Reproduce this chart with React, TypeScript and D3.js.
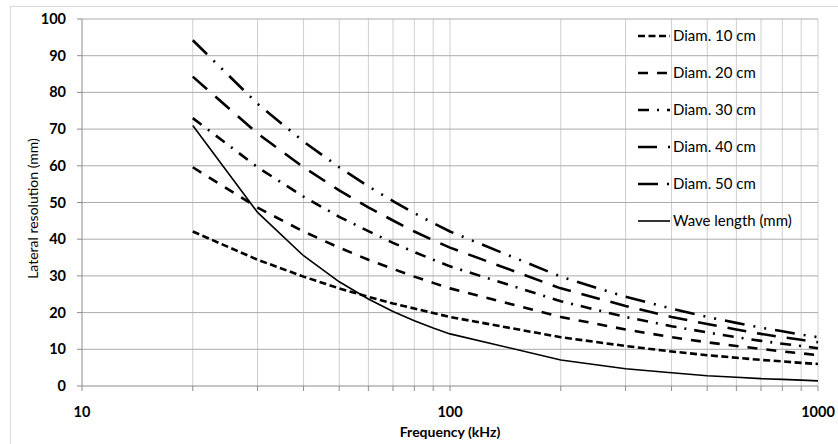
import * as d3 from "d3";

const freqs = [20, 30, 40, 50, 60, 70, 80, 90, 100, 200, 300, 400, 500, 600, 700, 800, 900, 1000];
const waveLength = [71, 47.3, 35.5, 28.4, 23.7, 20.3, 17.8, 15.8, 14.2, 7.1, 4.7, 3.6, 2.8, 2.4, 2.0, 1.8, 1.6, 1.4];
const diam10 = [42.1, 34.4, 29.8, 26.6, 24.3, 22.5, 21.1, 19.9, 18.8, 13.3, 10.9, 9.4, 8.4, 7.7, 7.1, 6.7, 6.3, 6.0];
const diam20 = [59.6, 48.6, 42.1, 37.7, 34.4, 31.9, 29.8, 28.1, 26.6, 18.8, 15.4, 13.3, 11.9, 10.9, 10.1, 9.4, 8.9, 8.4];
const diam30 = [73.0, 59.6, 51.6, 46.1, 42.2, 39.0, 36.5, 34.4, 32.6, 23.1, 18.8, 16.3, 14.6, 13.3, 12.3, 11.5, 10.9, 10.3];
const diam40 = [84.3, 68.8, 59.6, 53.3, 48.7, 45.1, 42.1, 39.7, 37.7, 26.6, 21.8, 18.8, 16.9, 15.4, 14.2, 13.3, 12.6, 11.9];
const diam50 = [94.2, 76.9, 66.6, 59.6, 54.4, 50.4, 47.1, 44.4, 42.1, 29.8, 24.3, 21.1, 18.8, 17.2, 15.9, 14.9, 14.0, 13.3];

const yTicks = [0, 10, 20, 30, 40, 50, 60, 70, 80, 90, 100];
const xLabels = [10, 100, 1000];
const gridFreqs = [20, 30, 40, 50, 60, 70, 80, 90, 100, 200, 300, 400, 500, 600, 700, 800, 900, 1000];

const series = [
  { name: "Diam. 10 cm", values: diam10, dash: "7,3.5", width: 2.6 },
  { name: "Diam. 20 cm", values: diam20, dash: "10,9", width: 2.6 },
  { name: "Diam. 30 cm", values: diam30, dash: "11,8,2,8", width: 2.6 },
  { name: "Diam. 40 cm", values: diam40, dash: "19,11", width: 2.6 },
  { name: "Diam. 50 cm", values: diam50, dash: "20,9,2,9,2,9", width: 2.6 },
  { name: "Wave length (mm)", values: waveLength, dash: null, width: 1.6 },
];

const width = 838;
const height = 444;
const margin = { top: 19, right: 20, bottom: 58, left: 82 };

export default function App() {
  const x = d3.scaleLog().domain([10, 1000]).range([margin.left, width - margin.right]);
  const y = d3.scaleLinear().domain([0, 100]).range([height - margin.bottom, margin.top]);

  const line = d3
    .line<number>()
    .x((_, i) => x(freqs[i]))
    .y((d) => y(d));

  const font = "Lato, 'Open Sans', sans-serif";

  return (
    <svg
      width={width}
      height={height}
      style={{ position: "absolute", left: 0, top: 0, background: "#fff" }}
      fontFamily={font}
    >
      <rect x={10.5} y={6.5} width={width} height={height} fill="#fff" stroke="#d9d9d9" />

      {/* vertical grid */}
      {gridFreqs.map((f) => (
        <line key={"v" + f} x1={x(f)} x2={x(f)} y1={y(100)} y2={y(0)} stroke="#cfcfcf" />
      ))}
      {/* horizontal grid */}
      {yTicks.slice(1).map((t) => (
        <line key={"h" + t} x1={x(10)} x2={x(1000)} y1={y(t)} y2={y(t)} stroke="#ababab" />
      ))}

      {/* axes */}
      <line x1={x(10)} x2={x(10)} y1={y(100)} y2={y(0)} stroke="#8c8c8c" />
      <line x1={x(10)} x2={x(1000)} y1={y(0)} y2={y(0)} stroke="#8c8c8c" />
      {yTicks.map((t) => (
        <g key={"yt" + t}>
          <line x1={x(10) - 5} x2={x(10)} y1={y(t)} y2={y(t)} stroke="#8c8c8c" />
          <text x={66} y={y(t)} dy="0.35em" textAnchor="end" fontSize={14.5} fontWeight="bold">
            {t}
          </text>
        </g>
      ))}
      {[10, ...gridFreqs].map((f) => (
        <line key={"xt" + f} x1={x(f)} x2={x(f)} y1={y(0)} y2={y(0) + 5} stroke="#8c8c8c" />
      ))}
      {xLabels.map((f) => (
        <text key={"xl" + f} x={x(f)} y={417} textAnchor="middle" fontSize={14.5} fontWeight="bold">
          {f}
        </text>
      ))}
      <text x={x(100)} y={437} textAnchor="middle" fontSize={14} fontWeight="bold">
        Frequency (kHz)
      </text>
      <text
        transform={`translate(38,${y(50) + 6}) rotate(-90)`}
        textAnchor="middle"
        fontSize={14}
      >
        Lateral resolution (mm)
      </text>

      {/* series */}
      {series.map((s) => (
        <path
          key={s.name}
          d={line(s.values) ?? ""}
          fill="none"
          stroke="#000"
          strokeWidth={s.width}
          strokeDasharray={s.dash ?? undefined}
        />
      ))}

      {/* legend */}
      {series.map((s, i) => {
        const ly = 36 + i * 37;
        return (
          <g key={"lg" + s.name}>
            <line
              x1={638}
              x2={670}
              y1={ly}
              y2={ly}
              stroke="#000"
              strokeWidth={s.width}
              strokeDasharray={s.dash ?? undefined}
            />
            <text x={673} y={ly} dy="0.35em" fontSize={15}>
              {s.name}
            </text>
          </g>
        );
      })}
    </svg>
  );
}
